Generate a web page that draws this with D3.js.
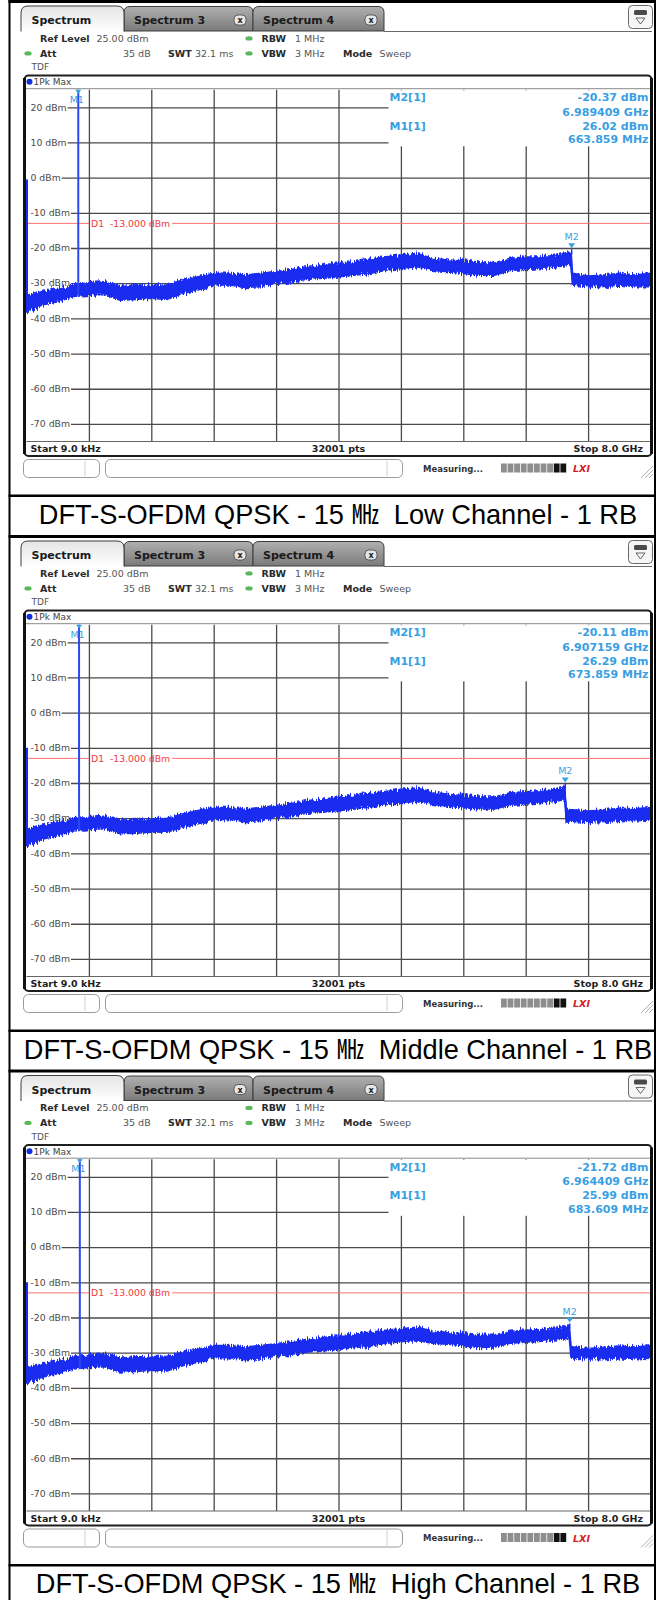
<!DOCTYPE html>
<html><head><meta charset="utf-8">
<script src="https://cdn.jsdelivr.net/npm/d3@7"></script>
<style>body{margin:0;background:#fff;}svg{display:block;}</style>
</head><body>
<svg id="chart" width="656" height="1600"></svg>
<script>
// ---------------- DATA ----------------
const captions = [
  "DFT-S-OFDM QPSK - 15 \u3392  Low Channel - 1 RB",
  "DFT-S-OFDM QPSK - 15 \u3392  Middle Channel - 1 RB",
  "DFT-S-OFDM QPSK - 15 \u3392  High Channel - 1 RB"
];
const tabLabels = ["Spectrum", "Spectrum 3", "Spectrum 4"];
const yTickValues = [20, 10, 0, -10, -20, -30, -40, -50, -60, -70];
const yTickLabels = ["20 dBm", "10 dBm", "0 dBm", "-10 dBm", "-20 dBm", "-30 dBm", "-40 dBm", "-50 dBm", "-60 dBm", "-70 dBm"];
const xGridValues = [0.8, 1.6, 2.4, 3.2, 4.0, 4.8, 5.6, 6.4, 7.2];
const refLevel = 25, bottomLevel = -75;
const startFreq = 0.000009, stopFreq = 8.0;
const d1Level = -13;
const m1Freq = [0.663859, 0.673859, 0.683609];
const m1Level = [26.02, 26.29, 25.99];
const m1LevelText = ["26.02 dBm", "26.29 dBm", "25.99 dBm"];
const m1FreqText = ["663.859 MHz", "673.859 MHz", "683.609 MHz"];
const m2Freq = [6.989409, 6.907159, 6.964409];
const m2Level = [-20.37, -20.11, -21.72];
const m2LevelText = ["-20.37 dBm", "-20.11 dBm", "-21.72 dBm"];
const m2FreqText = ["6.989409 GHz", "6.907159 GHz", "6.964409 GHz"];
const startSpikeLevel = [-0.5, -10, -10];

// trace envelopes (GHz, dBm)
const traceFreq1 = [0,0.2,0.4,0.6,0.8,1.0,1.2,1.4,1.6,1.8,2.0,2.2,2.4,2.6,2.8,3.0,3.2,3.4,3.6,3.8,4.0,4.2,4.4,4.6,4.8,5.0,5.2,5.4,5.6,5.8,6.0,6.2,6.4,6.6,6.8,6.98,7.0,7.2,7.4,7.6,7.8,8.0];
const traceHi1 = [-33.8,-32.4,-31.5,-30.5,-29.9,-29.6,-31.0,-30.5,-30.5,-30.5,-29.1,-28.2,-27.2,-27.2,-27.7,-27.2,-26.7,-26.1,-25.3,-24.8,-24.3,-23.9,-23.2,-22.5,-22.0,-21.5,-22.9,-23.4,-23.7,-24.3,-24.3,-22.9,-22.6,-22.5,-22.0,-21.0,-27.2,-28.0,-27.7,-27.2,-27.7,-27.2];
const traceLo1 = [-38.1,-36.2,-35.3,-33.8,-33.4,-33.2,-34.8,-34.6,-34.3,-34.6,-32.9,-31.9,-30.5,-30.5,-31.2,-31.0,-30.0,-29.6,-28.9,-28.6,-28.2,-27.7,-27.2,-26.4,-25.8,-25.3,-26.3,-26.7,-27.2,-27.7,-27.7,-26.4,-26.1,-25.8,-25.3,-24.8,-30.5,-31.0,-30.9,-30.5,-31.0,-31.0];

const traceFreq2 = [0,0.2,0.4,0.6,0.8,1.0,1.2,1.4,1.6,1.8,2.0,2.2,2.4,2.6,2.8,3.0,3.2,3.4,3.6,3.8,4.0,4.2,4.4,4.6,4.8,5.0,5.2,5.4,5.6,5.8,6.0,6.2,6.4,6.6,6.8,6.9,6.92,7.2,7.4,7.6,7.8,8.0];
const traceHi2 = [-33.5,-32.0,-31.0,-30.2,-29.8,-29.5,-30.6,-30.4,-30.2,-30.0,-28.8,-27.8,-27.0,-27.0,-27.4,-27.0,-26.4,-25.8,-25.0,-24.6,-24.0,-23.5,-23.0,-22.4,-21.8,-21.4,-22.5,-23.2,-23.6,-24.0,-24.0,-22.8,-22.5,-22.2,-21.8,-21.0,-27.5,-28.0,-27.6,-27.2,-27.3,-27.0];
const traceLo2 = [-37.8,-36.0,-35.0,-33.6,-33.2,-33.0,-34.4,-34.3,-34.0,-34.0,-32.6,-31.6,-30.4,-30.3,-31.0,-30.7,-29.8,-29.3,-28.6,-28.3,-27.9,-27.4,-26.9,-26.2,-25.6,-25.2,-26.0,-26.6,-27.0,-27.4,-27.4,-26.3,-26.0,-25.6,-25.2,-24.7,-30.8,-31.2,-30.9,-30.6,-30.7,-30.5];

const traceFreq3 = [0,0.2,0.4,0.6,0.8,1.0,1.2,1.4,1.6,1.8,2.0,2.2,2.4,2.6,2.8,3.0,3.2,3.4,3.6,3.8,4.0,4.2,4.4,4.6,4.8,5.0,5.2,5.4,5.6,5.8,6.0,6.2,6.4,6.6,6.8,6.96,6.98,7.2,7.4,7.6,7.8,8.0];
const traceHi3 = [-34.4,-33.2,-32.3,-31.3,-30.7,-30.4,-31.6,-31.2,-31.1,-31.0,-29.9,-29.0,-28.0,-28.0,-28.4,-28.0,-27.5,-26.9,-26.2,-25.7,-25.2,-24.8,-24.2,-23.6,-23.2,-22.8,-23.8,-24.3,-24.6,-25.1,-25.0,-23.9,-23.6,-23.4,-23.0,-22.4,-28.3,-28.8,-28.5,-28.1,-28.4,-28.0];
const traceLo3 = [-38.6,-37.0,-36.0,-34.6,-34.2,-34.0,-35.5,-35.3,-35.0,-35.2,-33.7,-32.7,-31.4,-31.4,-32.0,-31.8,-30.9,-30.4,-29.8,-29.5,-29.1,-28.6,-28.1,-27.4,-26.9,-26.5,-27.3,-27.6,-28.0,-28.5,-28.4,-27.3,-27.0,-26.7,-26.3,-25.9,-31.5,-31.8,-31.7,-31.4,-31.7,-31.6];

const traceFreqs = [traceFreq1, traceFreq2, traceFreq3];
const traceHis = [traceHi1, traceHi2, traceHi3];
const traceLos = [traceLo1, traceLo2, traceLo3];

// ---------------- DRAWING ----------------
const svg = d3.select("#chart");
const UI = "'DejaVu Sans', Verdana, sans-serif";
const CAP = "'Liberation Sans', Arial, 'Noto Sans CJK KR', sans-serif";
const traceColor = "#1a2cf0";
const markerBlue = "#3a9fe2";
const offsets = [0, 535, 1069.5];

const defs = svg.append("defs");
function noiseFilter(id, freq, scale, seed) {
  const f = defs.append("filter").attr("id", id).attr("x", "-1%").attr("y", "-40%")
    .attr("width", "102%").attr("height", "180%").attr("color-interpolation-filters", "sRGB");
  f.append("feTurbulence").attr("type", "fractalNoise").attr("baseFrequency", freq)
    .attr("numOctaves", 2).attr("seed", seed).attr("result", "t");
  f.append("feColorMatrix").attr("in", "t").attr("type", "matrix")
    .attr("values", "0 0 0 0 0.5  1 0 0 0 0  0 0 0 0 0  0 0 0 0 1").attr("result", "m");
  f.append("feDisplacementMap").attr("in", "SourceGraphic").attr("in2", "m").attr("scale", scale)
    .attr("xChannelSelector", "R").attr("yChannelSelector", "G");
}
noiseFilter("noise", "0.8 0.04", 9, 7);
noiseFilter("noise2", "1.2 0.06", 12, 3);

const gInact = defs.append("linearGradient").attr("id", "tabInact").attr("x1", 0).attr("y1", 0).attr("x2", 0).attr("y2", 1);
gInact.append("stop").attr("offset", "0%").attr("stop-color", "#b0b0b0");
gInact.append("stop").attr("offset", "100%").attr("stop-color", "#7a7a7a");
const gAct = defs.append("linearGradient").attr("id", "tabAct").attr("x1", 0).attr("y1", 0).attr("x2", 0).attr("y2", 1);
gAct.append("stop").attr("offset", "0%").attr("stop-color", "#e4e4e4");
gAct.append("stop").attr("offset", "100%").attr("stop-color", "#ffffff");

function tabPath(x0, x1, y0, y1, r) {
  return `M${x0},${y1}V${y0 + r}Q${x0},${y0} ${x0 + r},${y0}H${x1 - r}Q${x1},${y0} ${x1},${y0 + r}V${y1}`;
}

function txt(g, x, y, s, opts = {}) {
  return g.append("text").attr("x", x).attr("y", y).text(s)
    .attr("font-family", opts.family || UI)
    .attr("font-size", opts.size || 9.5)
    .attr("font-weight", opts.weight || "normal")
    .attr("fill", opts.fill || "#333")
    .attr("text-anchor", opts.anchor || "start");
}

function drawBlock(k) {
  const g = svg.append("g").attr("transform", `translate(0,${offsets[k]})`);

  // table lines
  g.append("rect").attr("x", 8.5).attr("y", 0).attr("width", 648).attr("height", 3).attr("fill", "#000");
  g.append("rect").attr("x", 8.5).attr("y", 494.5).attr("width", 648).attr("height", 2.5).attr("fill", "#000");
  txt(g, 338, 523.5, captions[k], { family: CAP, size: 27.2, fill: "#000", anchor: "middle" })
    .style("white-space", "pre");

  // ---- tabs ----
  [[124, 253, 240], [253, 384, 371]].forEach((t, i) => {
    g.append("path").attr("d", tabPath(t[0], t[1], 6.5, 31, 6) + "Z")
      .attr("fill", "url(#tabInact)").attr("stroke", "#3c3c3c").attr("stroke-width", 1);
    txt(g, t[0] + 10, 24, tabLabels[i + 1], { size: 11, weight: "bold", fill: "#1a1a1a" });
    g.append("rect").attr("x", t[2] - 6).attr("y", 15).attr("width", 12).attr("height", 10).attr("rx", 4)
      .attr("fill", "#e6e6e6").attr("stroke", "#444").attr("stroke-width", 0.8);
    txt(g, t[2], 23, "x", { size: 8, weight: "bold", fill: "#222", anchor: "middle" });
  });
  g.append("path").attr("d", tabPath(21, 124, 6, 31.5, 7))
    .attr("fill", "url(#tabAct)").attr("stroke", "#3c3c3c").attr("stroke-width", 1);
  txt(g, 31.5, 24, tabLabels[0], { size: 11, weight: "bold", fill: "#1a1a1a" });
  g.append("line").attr("x1", 384).attr("x2", 652).attr("y1", 31.5).attr("y2", 31.5).attr("stroke", "#6a6a6a").attr("stroke-width", 1);
  // top-right icon
  g.append("rect").attr("x", 628.5).attr("y", 5.5).attr("width", 24).attr("height", 23).attr("rx", 4)
    .attr("fill", "#f6f6f6").attr("stroke", "#6a6a6a");
  g.append("rect").attr("x", 634).attr("y", 10).attr("width", 13).attr("height", 5).attr("rx", 1.5).attr("fill", "#4a4a4a");
  g.append("path").attr("d", "M636,18 L645,18 L640.5,24 Z").attr("fill", "none").attr("stroke", "#555").attr("stroke-width", 0.9);

  // ---- header info ----
  const dot = (x, y) => g.append("ellipse").attr("cx", x).attr("cy", y).attr("rx", 3.6).attr("ry", 2.2).attr("fill", "#5cb85c");
  txt(g, 40, 41.7, "Ref Level", { weight: "bold", fill: "#2a2a2a" });
  txt(g, 96.5, 41.7, "25.00 dBm", { fill: "#555" });
  dot(249, 38.4); txt(g, 261.5, 41.7, "RBW", { weight: "bold", fill: "#2a2a2a" });
  txt(g, 295, 41.7, "1 MHz", { fill: "#555" });
  dot(28, 53.4); txt(g, 40, 56.7, "Att", { weight: "bold", fill: "#2a2a2a" });
  txt(g, 123, 56.7, "35 dB", { fill: "#555" });
  txt(g, 168, 56.7, "SWT", { weight: "bold", fill: "#2a2a2a" });
  txt(g, 195, 56.7, "32.1 ms", { fill: "#555" });
  dot(249, 53.4); txt(g, 261.5, 56.7, "VBW", { weight: "bold", fill: "#2a2a2a" });
  txt(g, 295, 56.7, "3 MHz", { fill: "#555" });
  txt(g, 343, 56.7, "Mode", { weight: "bold", fill: "#2a2a2a" });
  txt(g, 379.5, 56.7, "Sweep", { fill: "#555" });
  txt(g, 31.5, 70, "TDF", { size: 9, fill: "#555" });

  // ---- plot frame ----
  const x = d3.scaleLinear().domain([startFreq, stopFreq]).range([26.5, 650.5]);
  const y = d3.scaleLinear().domain([bottomLevel, refLevel]).range([441.5, 89.7]);
  const xl = x.range()[0], xr = x.range()[1];
  const yt = y(refLevel), yb = y(bottomLevel);

  g.append("rect").attr("x", 24.5).attr("y", 75.5).attr("width", 627).attr("height", 380.5).attr("rx", 4)
    .attr("fill", "#fff").attr("stroke", "#1e1e1e").attr("stroke-width", 2);
  g.append("line").attr("x1", 25).attr("x2", 651).attr("y1", 88.7).attr("y2", 88.7).attr("stroke", "#8a8a8a").attr("stroke-width", 1);
  g.append("circle").attr("cx", 29.5).attr("cy", 81.8).attr("r", 3).attr("fill", "#1030e0");
  txt(g, 33.5, 85.2, "1Pk Max", { size: 9, fill: "#444" });

  // grid via axes
  g.append("g").attr("transform", `translate(0,${yt})`)
    .call(d3.axisBottom(x).tickValues(xGridValues).tickSize(yb - yt).tickFormat(() => ""))
    .call(s => { s.select(".domain").remove(); s.selectAll("text").remove();
      s.selectAll("line").attr("stroke", "#4a4a4a").attr("stroke-width", 1.3); });
  g.append("g").attr("transform", `translate(${xl},0)`)
    .call(d3.axisRight(y).tickValues(yTickValues).tickSize(xr - xl).tickFormat(() => ""))
    .call(s => { s.select(".domain").remove(); s.selectAll("text").remove();
      s.selectAll("line").attr("stroke", "#4a4a4a").attr("stroke-width", 1.3); });
  g.append("line").attr("x1", xl).attr("x2", xr).attr("y1", yb).attr("y2", yb).attr("stroke", "#666").attr("stroke-width", 1);

  // y labels with white backgrounds
  yTickValues.forEach((v, i) => {
    const t = txt(g, 30.5, y(v) + 3.3, yTickLabels[i], { size: 9.3, fill: "#4a4a4a" });
    const w = t.node().getComputedTextLength();
    g.insert("rect", () => t.node()).attr("x", 26).attr("y", y(v) - 4).attr("width", w + 5.5).attr("height", 8).attr("fill", "#fff");
  });

  // marker table background
  g.append("rect").attr("x", 388.5).attr("y", 90.3).attr("width", 262).attr("height", 56).attr("fill", "#fff");

  // display line D1
  const d1y = y(d1Level);
  const d1t = txt(g, 91, d1y + 3.3, "D1  -13.000 dBm", { size: 9.3, fill: "#ef3b3b" });
  d1t.style("white-space", "pre");
  const d1w = d1t.node().getComputedTextLength();
  g.append("line").attr("x1", xl).attr("x2", 89).attr("y1", d1y).attr("y2", d1y).attr("stroke", "#ff7070").attr("stroke-width", 1);
  g.append("line").attr("x1", 91 + d1w + 2).attr("x2", xr).attr("y1", d1y).attr("y2", d1y).attr("stroke", "#ff7070").attr("stroke-width", 1);

  // trace band
  const fr = traceFreqs[k], hi = traceHis[k], lo = traceLos[k];
  const pts = fr.map((ff, i) => ({ f: ff, hi: hi[i], lo: lo[i] }));
  const area = d3.area().x(d => x(d.f)).y0(d => y(d.lo)).y1(d => y(d.hi));
  g.append("path").datum(pts).attr("d", area).attr("fill", traceColor)
    .attr("stroke", traceColor).attr("stroke-width", 1.6).attr("filter", "url(#noise)");
  g.append("path").datum(pts).attr("d", d3.line().x(d => x(d.f)).y(d => y(d.hi) + 2))
    .attr("fill", "none").attr("stroke", traceColor).attr("stroke-width", 1.2).attr("filter", "url(#noise2)");
  g.append("path").datum(pts).attr("d", d3.line().x(d => x(d.f)).y(d => y(d.lo) - 2))
    .attr("fill", "none").attr("stroke", traceColor).attr("stroke-width", 1.2).attr("filter", "url(#noise2)");

  const nearest = (fq) => pts[d3.minIndex(pts, p => Math.abs(p.f - fq))];
  g.append("line").attr("x1", x(startFreq) + 0.5).attr("x2", x(startFreq) + 0.5)
    .attr("y1", y(startSpikeLevel[k])).attr("y2", y(pts[0].lo))
    .attr("stroke", traceColor).attr("stroke-width", 2);
  const m1x = x(m1Freq[k]);
  g.append("line").attr("x1", m1x).attr("x2", m1x)
    .attr("y1", y(Math.min(refLevel, m1Level[k]))).attr("y2", y(nearest(m1Freq[k]).lo))
    .attr("stroke", "#2a48f4").attr("stroke-width", 2);
  g.append("path").attr("d", `M${m1x - 3},${yt} L${m1x + 3},${yt} L${m1x},${yt + 4} Z`).attr("fill", markerBlue);
  txt(g, m1x - 1.5, yt + 13, "M1", { size: 9.5, fill: markerBlue, anchor: "middle" });

  const m2x = x(m2Freq[k]), m2y = y(m2Level[k]);
  g.append("line").attr("x1", m2x).attr("x2", m2x).attr("y1", m2y).attr("y2", y(nearest(m2Freq[k]).hi) + 3)
    .attr("stroke", traceColor).attr("stroke-width", 1.5);
  g.append("path").attr("d", `M${m2x - 3.5},${m2y - 6} L${m2x + 3.5},${m2y - 6} L${m2x},${m2y - 1} Z`).attr("fill", markerBlue);
  txt(g, m2x, m2y - 9, "M2", { size: 9.5, fill: markerBlue, anchor: "middle" });

  const mt = { size: 11, weight: "bold", fill: markerBlue };
  txt(g, 389.5, 101.3, "M2[1]", mt);
  txt(g, 648.5, 101.3, m2LevelText[k], Object.assign({ anchor: "end" }, mt));
  txt(g, 648.5, 115.5, m2FreqText[k], Object.assign({ anchor: "end" }, mt));
  txt(g, 389.5, 129.6, "M1[1]", mt);
  txt(g, 648.5, 129.6, m1LevelText[k], Object.assign({ anchor: "end" }, mt));
  txt(g, 648.5, 143.3, m1FreqText[k], Object.assign({ anchor: "end" }, mt));

  txt(g, 30.5, 452, "Start 9.0 kHz", { weight: "bold", fill: "#1e1e1e" });
  txt(g, 338.5, 452, "32001 pts", { weight: "bold", fill: "#1e1e1e", anchor: "middle" });
  txt(g, 643, 452, "Stop 8.0 GHz", { weight: "bold", fill: "#1e1e1e", anchor: "end" });
  g.append("line").attr("x1", 24.5).attr("x2", 24.5).attr("y1", 78).attr("y2", 454).attr("stroke", "#111").attr("stroke-width", 3);
  g.append("line").attr("x1", 651.5).attr("x2", 651.5).attr("y1", 78).attr("y2", 454).attr("stroke", "#111").attr("stroke-width", 3);

  // ---- status bar ----
  g.append("rect").attr("x", 23.5).attr("y", 459.5).attr("width", 76).attr("height", 18).attr("rx", 5)
    .attr("fill", "#fff").attr("stroke", "#9a9a9a");
  g.append("line").attr("x1", 85).attr("x2", 85).attr("y1", 461).attr("y2", 476).attr("stroke", "#cfcfcf");
  g.append("rect").attr("x", 105.5).attr("y", 459.5).attr("width", 297).attr("height", 18).attr("rx", 5)
    .attr("fill", "#fff").attr("stroke", "#9a9a9a");
  g.append("line").attr("x1", 387).attr("x2", 387).attr("y1", 461).attr("y2", 476).attr("stroke", "#cfcfcf");
  txt(g, 423, 471.5, "Measuring...", { size: 8.5, weight: "bold", fill: "#333" });
  for (let i = 0; i < 10; i++) {
    g.append("rect").attr("x", 501 + i * 6.6).attr("y", 463.5).attr("width", 5.8).attr("height", 9)
      .attr("fill", i >= 8 ? "#111" : "#8e8e8e");
  }
  txt(g, 573, 472, "LXI", { size: 9.5, weight: "bold", fill: "#d42020" }).attr("font-style", "italic");
  [0, 4, 8].forEach(d => g.append("line").attr("x1", 641 + d).attr("y1", 478).attr("x2", 653).attr("y2", 466 + d)
    .attr("stroke", "#9a9a9a").attr("stroke-width", 0.8));
}

[0, 1, 2].forEach(drawBlock);

svg.append("rect").attr("x", 8.5).attr("y", 0).attr("width", 2).attr("height", 1600).attr("fill", "#000");
svg.append("rect").attr("x", 654).attr("y", 0).attr("width", 2).attr("height", 1600).attr("fill", "#000");
</script>
</body></html>
